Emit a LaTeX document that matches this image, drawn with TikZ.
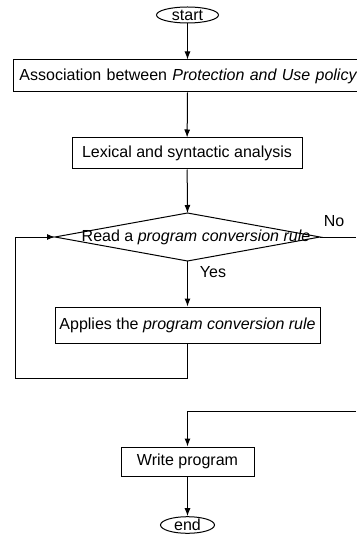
\documentclass[tikz,border=0pt]{standalone}
\usepackage{fontspec}
\setmainfont{Liberation Sans}
\usetikzlibrary{shapes.geometric,arrows.meta}
\begin{document}
\begin{tikzpicture}[x=1pt,y=1pt,
  font=\fontsize{16}{18}\selectfont,
  line width=1pt,
  term/.style={draw,ellipse,inner sep=0pt,minimum width=62,minimum height=16},
  procbox/.style={draw,rectangle,inner sep=0pt},
  flow/.style={-{Latex[length=8pt,width=6pt]}},
  plain/.style={draw}]
\useasboundingbox (0,0) rectangle (356,-537);
% terminals
\node[term] (start) at (187.5,-15) {start};
\node[term,minimum width=54] (end) at (187.5,-525) {end};
% process boxes
\node[procbox,anchor=west,minimum width=360,minimum height=32,text width=348,align=left,inner xsep=6]
  (assoc) at (13,-76) {Association between \textit{Protection and Use policy}};
\node[procbox,minimum width=230,minimum height=31] (lex) at (187,-153.5) {Lexical and syntactic analysis};
\node[procbox,minimum width=265,minimum height=36] (apply) at (187.5,-325) {Applies the \textit{program conversion rule}};
\node[procbox,minimum width=133,minimum height=29] (write) at (187.5,-461.5) {Write program};
% decision
\coordinate (dt) at (187.5,-213);
\coordinate (dr) at (320,-237);
\coordinate (db) at (187.5,-261);
\coordinate (dl) at (55,-237);
\draw (dt) -- (dr) -- (db) -- (dl) -- cycle;
\node (read) at (196,-237) {Read a \textit{program conversion rule}};
\node (no) at (334,-221) {No};
\node (yes) at (213,-272) {Yes};
% connector waypoints
\coordinate (loopA) at (187.5,-378);
\coordinate (loopB) at (15,-378);
\coordinate (loopC) at (15,-237);
\coordinate (noEnd) at (356,-237);
\coordinate (noIn) at (356,-411);
\coordinate (joinW) at (187.5,-411);
% connectors
\draw[flow] (start) -- (start |- assoc.north);
\draw[flow] (start |- assoc.south) -- (lex);
\draw[flow] (lex) -- (dt);
\draw[flow] (db) -- (apply);
\draw[flow] (apply) -- (loopA) -- (loopB) -- (loopC) -- (dl);
\draw (dr) -- (noEnd);
\draw[flow] (noIn) -- (joinW) -- (write);
\draw[flow] (write) -- (end);
\end{tikzpicture}
\end{document}
